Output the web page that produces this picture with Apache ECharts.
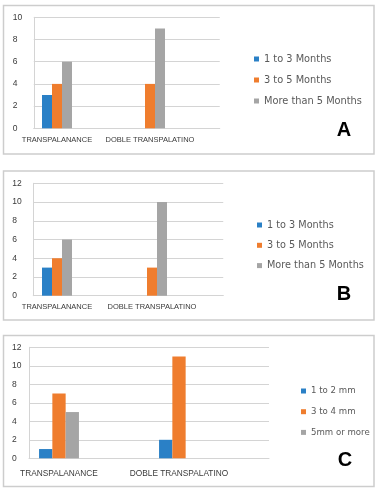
<!DOCTYPE html>
<html>
<head>
<meta charset="utf-8">
<title>Transpalatal charts A B C</title>
<script src="https://cdn.jsdelivr.net/npm/echarts@6/dist/echarts.min.js"></script>
<style>
  html, body { margin: 0; padding: 0; background: #fff; }
  #charts { width: 380px; height: 490px; }
</style>
</head>
<body>
<div id="charts"></div>
<script>
// categories and series values
var categories = ['TRANSPALANANCE', 'DOBLE TRANSPALATINO'];
var namesAB = ['1 to 3 Months', '3 to 5 Months', 'More than 5 Months'];
var namesC = ['1 to 2 mm', '3 to 4 mm', '5mm or more'];

var a1to3 = [3, 0];
var a3to5 = [4, 4];
var aMore5 = [6, 9];

var b1to3 = [3, 0];
var b3to5 = [4, 3];
var bMore5 = [6, 10];

var c1to2 = [1, 2];
var c3to4 = [7, 11];
var c5more = [5, 0];

var yMaxA = 10, yMaxB = 12, yMaxC = 12, yStep = 2;

var colors = ['#2a80c6', '#ef7d2e', '#a5a5a5'];
var font = 'Liberation Sans, Arial, sans-serif';

// each category is followed by an empty slot, like the spacing in the original
function slots(arr) {
    var out = [];
    arr.forEach(function (v) { out.push(v, null); });
    return out;
}
var axisCats = [];
categories.forEach(function (c) { axisCats.push(c, ''); });

function xAx(idx, size, margin) {
    return {
        type: 'category', gridIndex: idx, data: axisCats,
        axisLine: { lineStyle: { color: '#d4d4d4', width: 1 } },
        axisTick: { show: false },
        axisLabel: { interval: 0, color: '#3a3a3a', fontFamily: font, fontSize: size, margin: margin }
    };
}
function yAx(idx, max, margin) {
    return {
        type: 'value', gridIndex: idx, min: 0, max: max, interval: yStep,
        axisLine: { show: true, lineStyle: { color: '#d4d4d4', width: 1 } },
        axisTick: { show: false },
        splitLine: { lineStyle: { color: '#d4d4d4', width: 1 } },
        axisLabel: { color: '#3a3a3a', fontFamily: font, fontSize: 8.5, align: 'left', margin: margin }
    };
}
function bar(name, data, idx, color, width) {
    return {
        name: name, type: 'bar', xAxisIndex: idx, yAxisIndex: idx,
        data: slots(data), barWidth: width, barGap: '0%',
        itemStyle: { color: color }, silent: true
    };
}
function legend(names, left, top, size, lh, gap) {
    return {
        data: names, orient: 'vertical', left: left, top: top, padding: 0,
        itemWidth: 5, itemHeight: 5, itemGap: gap, icon: 'rect',
        selectedMode: false,
        textStyle: { color: '#595959', fontFamily: 'DejaVu Sans, sans-serif', fontSize: size, lineHeight: lh }
    };
}
function box(y, h) {
    return { type: 'rect', shape: { x: 3.5, y: y, width: 370.5, height: h },
             style: { fill: '#fff', stroke: '#cdcdcd', lineWidth: 1.5 }, z: -10 };
}
function letter(t, x, y) {
    return { type: 'text', x: x, y: y, z: 10,
             style: { text: t, fill: '#000', font: 'bold 20px Liberation Sans, Arial, sans-serif', align: 'center', verticalAlign: 'middle' } };
}

var myChart = echarts.init(document.getElementById('charts'), null, { renderer: 'canvas' });
var option = {
    animation: false,
    backgroundColor: '#fff',
    color: colors,
    graphic: [
        box(5.5, 148.5), box(171, 149), box(335.5, 151),
        letter('A', 344, 130), letter('B', 344, 294), letter('C', 345, 460)
    ],
    grid: [
        { left: 33.75, top: 17.3, width: 186, height: 111 },
        { left: 33.25, top: 183.3, width: 190, height: 112.4 },
        { left: 29, top: 347.3, width: 240, height: 111 }
    ],
    legend: [
        legend(namesAB, 254, 54, 9.8, 10, 11),
        legend(namesAB, 257, 220, 9.7, 10, 10.3),
        legend(namesC, 301, 386.5, 8.6, 9, 11.7)
    ],
    xAxis: [xAx(0, 7.5, 8), xAx(1, 7.5, 7), xAx(2, 8.3, 11)],
    yAxis: [yAx(0, yMaxA, 21), yAx(1, yMaxB, 21), yAx(2, yMaxC, 17)],
    series: [
        bar(namesAB[0], a1to3, 0, colors[0], 10),
        bar(namesAB[1], a3to5, 0, colors[1], 10),
        bar(namesAB[2], aMore5, 0, colors[2], 10),
        bar(namesAB[0], b1to3, 1, colors[0], 10),
        bar(namesAB[1], b3to5, 1, colors[1], 10),
        bar(namesAB[2], bMore5, 1, colors[2], 10),
        bar(namesC[0], c1to2, 2, colors[0], 13.3),
        bar(namesC[1], c3to4, 2, colors[1], 13.3),
        bar(namesC[2], c5more, 2, colors[2], 13.3)
    ]
};
myChart.setOption(option);
</script>
</body>
</html>
